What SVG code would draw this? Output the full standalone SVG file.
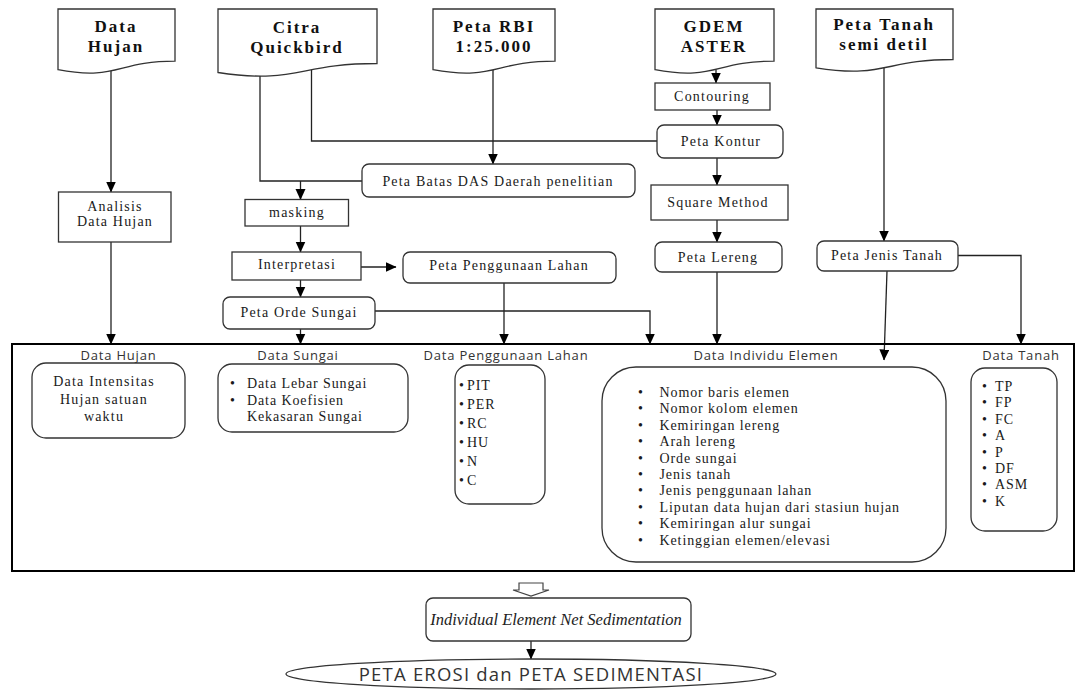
<svg xmlns="http://www.w3.org/2000/svg" width="1076" height="691" viewBox="0 0 1076 691">
<defs>
<marker id="ah" markerUnits="userSpaceOnUse" markerWidth="11" markerHeight="11" refX="10.5" refY="5" orient="auto">
<path d="M0,0 L11,5 L0,10 z" fill="#000"/>
</marker>
<style>
.doc,.box{fill:#fff;stroke:#333;stroke-width:1.3}
.big{fill:none;stroke:#000;stroke-width:2}
.ln{fill:none;stroke:#222;stroke-width:1.3}
.arr{marker-end:url(#ah)}
.h{font-family:"Liberation Serif","Times New Roman",serif;font-weight:bold;font-size:17px;letter-spacing:2px;text-anchor:middle;fill:#111}
.t{font-family:"Liberation Serif","Times New Roman",serif;font-size:14px;letter-spacing:1.2px;fill:#1a1a1a}
.c{text-anchor:middle}
.li{font-family:"Liberation Serif","Times New Roman",serif;font-size:14px;letter-spacing:0.9px;fill:#1a1a1a}
.s{font-family:"Open Sans","Liberation Sans",sans-serif;font-size:13px;letter-spacing:0.8px;fill:#333;text-anchor:middle}
.it{font-family:"Liberation Serif","Times New Roman",serif;font-style:italic;font-size:16.5px;fill:#222;text-anchor:middle}
.e{font-family:"Open Sans","Liberation Sans",sans-serif;font-size:18.5px;letter-spacing:1.2px;fill:#333;text-anchor:middle}
</style>
</defs>
<rect width="1076" height="691" fill="#fff"/>

<g id="connectors">
<path class="ln arr" d="M111,71 V192"/>
<path class="ln" d="M260,76 V181 H362"/>
<path class="ln arr" d="M300.5,181 V199.5"/>
<path class="ln" d="M311.5,70 V141 H657"/>
<path class="ln arr" d="M493,70 V164"/>
<path class="ln arr" d="M716,69.5 V83"/>
<path class="ln arr" d="M717,110 V125"/>
<path class="ln arr" d="M717,158 V185"/>
<path class="ln arr" d="M717,220 V242"/>
<path class="ln arr" d="M717,272 V344"/>
<path class="ln arr" d="M884,68 V241"/>
<path class="ln arr" d="M887,271 L884,360"/>
<path class="ln arr" d="M958,255.5 H1021 V344"/>
<path class="ln arr" d="M111,242 V344"/>
<path class="ln arr" d="M300.5,226 V252"/>
<path class="ln arr" d="M361,267 H396"/>
<path class="ln arr" d="M300.5,280 V297"/>
<path class="ln arr" d="M300.5,329 V344"/>
<path class="ln arr" d="M504,283 V344"/>
<path class="ln arr" d="M375,311 H650 V344"/>
<path class="ln arr" d="M531,641 V659"/>
<path d="M519,583 H543 V590 H549 L531,596 L513,590 H519 Z" fill="#fff" stroke="#444" stroke-width="1.2"/>
</g>

<g id="doc-data-hujan">
<path class="doc" d="M58,9 H175 V61.1 C116.5,61.1 116.5,81 58,69.7 Z"/>
<text class="h" x="116" y="31.5">Data</text>
<text class="h" x="116" y="51.5">Hujan</text>
</g>
<g id="doc-citra">
<path class="doc" d="M218,9 H377 V63.5 C297.5,63.5 297.5,84.3 218,72.5 Z"/>
<text class="h" x="297" y="33">Citra</text>
<text class="h" x="297" y="53">Quickbird</text>
</g>
<g id="doc-rbi">
<path class="doc" d="M433,9 H555 V61.1 C494,61.1 494,81 433,69.7 Z"/>
<text class="h" x="494" y="31.5">Peta RBI</text>
<text class="h" x="494" y="51.5">1:25.000</text>
</g>
<g id="doc-gdem">
<path class="doc" d="M655,9 H774 V61.1 C714.5,61.1 714.5,81 655,69.7 Z"/>
<text class="h" x="714" y="31.5">GDEM</text>
<text class="h" x="714" y="51.5">ASTER</text>
</g>
<g id="doc-tanah">
<path class="doc" d="M816,9 H953 V59.5 C884.5,59.5 884.5,78.7 816,67.8 Z"/>
<text class="h" x="884" y="30">Peta Tanah</text>
<text class="h" x="884" y="50">semi detil</text>
</g>

<g id="analisis">
<rect class="box" x="58.5" y="192" width="112.5" height="50"/>
<text class="t c" x="115" y="211">Analisis</text>
<text class="t c" x="115" y="226">Data Hujan</text>
</g>
<g id="batas-das">
<rect class="box" x="362" y="164" width="273" height="33" rx="7"/>
<text class="t c" x="498" y="185.5">Peta Batas DAS Daerah penelitian</text>
</g>
<g id="masking">
<rect class="box" x="245" y="199.5" width="103.5" height="26.5"/>
<text class="t c" x="297" y="217">masking</text>
</g>
<g id="interpretasi">
<rect class="box" x="232" y="252" width="129" height="28"/>
<text class="t c" x="297" y="269">Interpretasi</text>
</g>
<g id="penggunaan-lahan">
<rect class="box" x="403" y="252" width="213" height="31" rx="7"/>
<text class="t c" x="509" y="269.5">Peta Penggunaan Lahan</text>
</g>
<g id="orde-sungai">
<rect class="box" x="223" y="297" width="152" height="32" rx="7"/>
<text class="t c" x="299" y="317">Peta Orde Sungai</text>
</g>
<g id="contouring">
<rect class="box" x="655" y="83" width="115" height="27"/>
<text class="t c" x="712" y="100.5">Contouring</text>
</g>
<g id="kontur">
<rect class="box" x="657" y="125" width="126" height="33" rx="7"/>
<text class="t c" x="721" y="146">Peta Kontur</text>
</g>
<g id="square-method">
<rect class="box" x="651" y="185" width="137" height="35"/>
<text class="t c" x="718" y="206.5">Square Method</text>
</g>
<g id="lereng">
<rect class="box" x="655" y="242" width="127" height="30" rx="7"/>
<text class="t c" x="718" y="262">Peta Lereng</text>
</g>
<g id="jenis-tanah">
<rect class="box" x="817" y="241" width="141" height="30" rx="7"/>
<text class="t c" x="887" y="260">Peta Jenis Tanah</text>
</g>

<g id="data-panel">
<rect class="big" x="12" y="344" width="1062" height="227"/>
</g>
<g id="data-hujan">
<text class="s" x="118.5" y="360">Data Hujan</text>
<rect class="box" x="32" y="363" width="153" height="75" rx="14"/>
<text class="t c" x="104" y="386">Data Intensitas</text>
<text class="t c" x="104" y="404">Hujan satuan</text>
<text class="t c" x="104" y="421">waktu</text>
</g>
<g id="data-sungai">
<text class="s" x="298" y="360">Data Sungai</text>
<rect class="box" x="218" y="364" width="190" height="68" rx="14"/>
<text class="li" x="230" y="388">•</text>
<text class="li" x="247" y="388">Data Lebar Sungai</text>
<text class="li" x="230" y="404.5">•</text>
<text class="li" x="247" y="404.5">Data Koefisien</text>
<text class="li" x="247" y="421">Kekasaran Sungai</text>
</g>
<g id="data-penggunaan">
<text class="s" x="506" y="360">Data Penggunaan Lahan</text>
<rect class="box" x="455" y="365" width="90" height="139" rx="14"/>
<text class="li" x="459" y="389.5">•</text><text class="li" x="467" y="389.5">PIT</text>
<text class="li" x="459" y="408.5">•</text><text class="li" x="467" y="408.5">PER</text>
<text class="li" x="459" y="427.5">•</text><text class="li" x="467" y="427.5">RC</text>
<text class="li" x="459" y="446.5">•</text><text class="li" x="467" y="446.5">HU</text>
<text class="li" x="459" y="465.5">•</text><text class="li" x="467" y="465.5">N</text>
<text class="li" x="459" y="484.5">•</text><text class="li" x="467" y="484.5">C</text>
</g>
<g id="data-individu">
<text class="s" x="766" y="360">Data Individu Elemen</text>
<rect class="box" x="602" y="367" width="344" height="195" rx="34"/>
<text class="li" x="638" y="397">•</text><text class="li" x="659.5" y="397">Nomor baris elemen</text>
<text class="li" x="638" y="413.4">•</text><text class="li" x="659.5" y="413.4">Nomor kolom elemen</text>
<text class="li" x="638" y="429.8">•</text><text class="li" x="659.5" y="429.8">Kemiringan lereng</text>
<text class="li" x="638" y="446.2">•</text><text class="li" x="659.5" y="446.2">Arah lereng</text>
<text class="li" x="638" y="462.6">•</text><text class="li" x="659.5" y="462.6">Orde sungai</text>
<text class="li" x="638" y="479">•</text><text class="li" x="659.5" y="479">Jenis tanah</text>
<text class="li" x="638" y="495.4">•</text><text class="li" x="659.5" y="495.4">Jenis penggunaan lahan</text>
<text class="li" x="638" y="511.8">•</text><text class="li" x="659.5" y="511.8">Liputan data hujan dari stasiun hujan</text>
<text class="li" x="638" y="528.2">•</text><text class="li" x="659.5" y="528.2">Kemiringan alur sungai</text>
<text class="li" x="638" y="544.6">•</text><text class="li" x="659.5" y="544.6">Ketinggian elemen/elevasi</text>
</g>
<g id="data-tanah">
<text class="s" x="1021" y="360">Data Tanah</text>
<rect class="box" x="971" y="368" width="86" height="163" rx="14"/>
<text class="li" x="982" y="391">•</text><text class="li" x="995" y="391">TP</text>
<text class="li" x="982" y="407.4">•</text><text class="li" x="995" y="407.4">FP</text>
<text class="li" x="982" y="423.8">•</text><text class="li" x="995" y="423.8">FC</text>
<text class="li" x="982" y="440.2">•</text><text class="li" x="995" y="440.2">A</text>
<text class="li" x="982" y="456.6">•</text><text class="li" x="995" y="456.6">P</text>
<text class="li" x="982" y="473">•</text><text class="li" x="995" y="473">DF</text>
<text class="li" x="982" y="489.4">•</text><text class="li" x="995" y="489.4">ASM</text>
<text class="li" x="982" y="505.8">•</text><text class="li" x="995" y="505.8">K</text>
</g>

<g id="net-sedimentation">
<rect class="box" x="426" y="598" width="265" height="43" rx="7"/>
<text class="it" x="556" y="625">Individual Element Net Sedimentation</text>
</g>
<g id="peta-erosi">
<ellipse class="box" cx="531" cy="674" rx="245" ry="15"/>
<text class="e" x="531" y="680.5">PETA EROSI dan PETA SEDIMENTASI</text>
</g>
</svg>
